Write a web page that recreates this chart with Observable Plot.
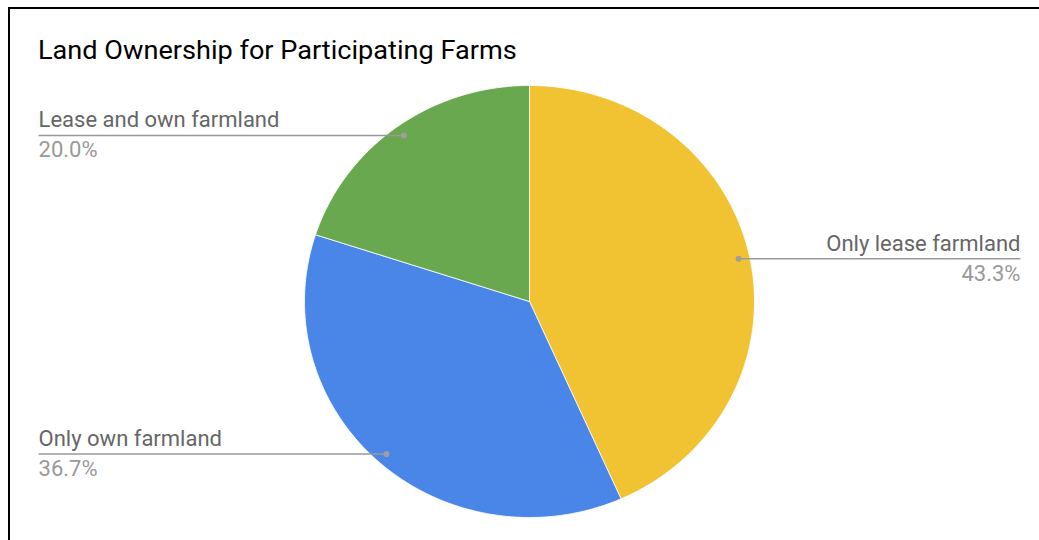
<!DOCTYPE html>
<html>
<head>
<meta charset="utf-8">
<script src="https://cdn.jsdelivr.net/npm/d3@7"></script>
<script src="https://cdn.jsdelivr.net/npm/@observablehq/plot@0.6"></script>
<style>
  html, body { margin: 0; padding: 0; background: #fff; }
  #wrap { position: relative; width: 1039px; height: 540px; overflow: hidden; font-family: Roboto, sans-serif; }
  #frame { position: absolute; left: 8px; top: 7px; width: 1100px; height: 600px; border: 2px solid #000; box-sizing: border-box; }
  #title { position: absolute; left: 38px; top: 38px; font-size: 25px; line-height: 25px; color: #000; white-space: nowrap; transform: scaleX(1.085); transform-origin: 0 0; }
  #chart { position: absolute; left: 0; top: 0; }
</style>
</head>
<body>
<div id="wrap">
  <div id="frame"></div>
  <div id="chart"></div>
  <div id="title">Land Ownership for Participating Farms</div>
</div>
<script>
const categories = ["Only lease farmland", "Only own farmland", "Lease and own farmland"];
const counts = [13, 11, 6];
const percentLabels = ["43.3%", "36.7%", "20.0%"];
const colors = ["#F1C232", "#4A86E8", "#6AA84F"];

const W = 1039, H = 540;
const cx = 529, cy = 301, rx = 225, ry = 216;
const labelX = 2.182; // label edge distance in radius units

const arcs = d3.pie().sort(null)(counts);
const slices = [];
arcs.forEach((a, i) => {
  const n = 120;
  slices.push({name: categories[i], x: 0, y: 0});
  for (let k = 0; k <= n; k++) {
    const t = a.startAngle + (a.endAngle - a.startAngle) * k / n;
    slices.push({name: categories[i], x: Math.sin(t), y: -Math.cos(t)});
  }
  slices.push({name: categories[i], x: 0, y: 0});
});

const labels = arcs.map((a, i) => {
  const m = (a.startAngle + a.endAngle) / 2;
  const px = 0.95 * Math.sin(m), py = -0.95 * Math.cos(m);
  const right = px > 0;
  return {name: categories[i], pct: percentLabels[i], px, py, lx: right ? labelX : -labelX, anchor: right ? "end" : "start"};
});

const chart = Plot.plot({
  width: W, height: H,
  margin: 0,
  x: {domain: [-cx / rx, (W - cx) / rx], range: [0, W], axis: null},
  y: {domain: [-cy / ry, (H - cy) / ry], range: [0, H], axis: null},
  color: {domain: categories, range: colors},
  style: {background: "transparent", fontFamily: "Roboto, sans-serif"},
  marks: [
    Plot.line(slices, {x: "x", y: "y", z: "name", fill: "name", stroke: "#fff", strokeWidth: 0.8, curve: "linear"}),
    Plot.link(labels, {x1: "lx", y1: "py", x2: "px", y2: "py", stroke: "#999", strokeWidth: 1.5}),
    Plot.dot(labels, {x: "px", y: "py", r: 3, fill: "#9e9e9e", stroke: "none"}),
    Plot.text(labels.filter(d => d.anchor === "start"), {x: "lx", y: "py", text: "name", textAnchor: "start", fontSize: 22, fill: "#666", dy: -15.3}),
    Plot.text(labels.filter(d => d.anchor === "end"), {x: "lx", y: "py", text: "name", textAnchor: "end", fontSize: 22, fill: "#666", dy: -15.3}),
    Plot.text(labels.filter(d => d.anchor === "start"), {x: "lx", y: "py", text: "pct", textAnchor: "start", fontSize: 22, fill: "#999", dy: 14.7}),
    Plot.text(labels.filter(d => d.anchor === "end"), {x: "lx", y: "py", text: "pct", textAnchor: "end", fontSize: 22, fill: "#999", dy: 14.7})
  ]
});
document.getElementById("chart").appendChild(chart);
</script>
</body>
</html>
